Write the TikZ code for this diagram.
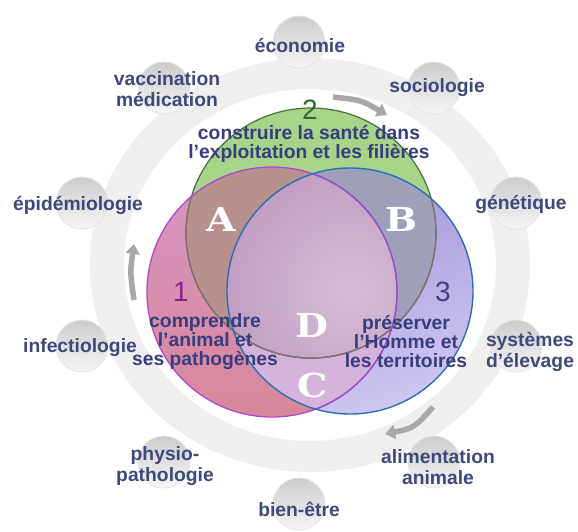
\documentclass[tikz,border=0pt]{standalone}
\usepackage{fontspec}
\setmainfont{Liberation Sans}
\newfontfamily\letterfont{DejaVu Serif}
\usetikzlibrary{arrows.meta}
\definecolor{txt}{HTML}{3D4A7C}
\definecolor{venntxt}{HTML}{373D7D}
\definecolor{ringc}{HTML}{EFEFEF}
\definecolor{arrc}{HTML}{A8A8A8}
\definecolor{greenfill}{HTML}{A8D48A}
\definecolor{oneTop}{HTML}{D696C4}
\definecolor{oneBot}{HTML}{D9869A}
\definecolor{threeTop}{HTML}{A090D8}
\definecolor{threeBot}{HTML}{CEC7F0}
\definecolor{regA}{HTML}{B8918E}
\definecolor{regB}{HTML}{9DA0B8}
\definecolor{regC}{HTML}{D5B3DA}
\definecolor{regDin}{HTML}{D6BDD6}
\definecolor{regDout}{HTML}{C29EC4}
\definecolor{greenline}{HTML}{46703A}
\definecolor{greengray}{HTML}{857174}
\definecolor{magline}{HTML}{B045D2}
\definecolor{blueline}{HTML}{2A6FB6}
\definecolor{numone}{HTML}{8E1C8E}
\definecolor{numtwo}{HTML}{2B6B2B}
\definecolor{numthree}{HTML}{4A3A8A}
\tikzset{
  outerlabel/.style={text=txt, font=\fontsize{19.3}{21}\selectfont\bfseries, align=center, inner sep=0pt},
  venntext/.style={text=venntxt, font=\fontsize{19.3}{19}\selectfont\bfseries, align=center, inner sep=0pt},
  bignum/.style={font=\fontsize{28}{28}\selectfont, inner sep=0pt},
  zone/.style={text=white, font=\fontsize{33}{33}\selectfont\letterfont\bfseries, inner sep=0pt, xscale=1.15},
  bubble/.style={circle, minimum size=52pt, inner sep=0pt, top color=gray!40, bottom color=gray!7, draw=gray!20, line width=0.8pt},
  ringarrow/.style={draw=arrc, line width=5.5pt, -{Triangle[length=10pt,width=14pt]}},
}
\begin{document}
\begin{tikzpicture}[x=1pt,y=-1pt]
\useasboundingbox (0,0) rectangle (578,531);
\fill[white] (0,0) rectangle (578,531);
% ring
\fill[ringc, even odd rule] (310,265) ellipse [x radius=220pt, y radius=207pt]
  (310,265) ellipse [x radius=186pt, y radius=176pt];
% bubbles
\node[bubble] (bEco) at (299,42) {};
\node[bubble] (bSoc) at (434,88) {};
\node[bubble] (bGen) at (516,203) {};
\node[bubble] (bSys) at (516,346) {};
\node[bubble] (bAli) at (434,462) {};
\node[bubble] (bBie) at (299,504) {};
\node[bubble] (bPhy) at (164,462) {};
\node[bubble] (bInf) at (82,346) {};
\node[bubble] (bEpi) at (82,203) {};
\node[bubble] (bVac) at (164,88) {};
% arrows on ring
\coordinate (t1) at (333,97);  \coordinate (t2) at (387,115);
\coordinate (l1) at (134,300); \coordinate (l2) at (134,244);
\coordinate (r1) at (433,407); \coordinate (r2) at (385,434);
\draw[ringarrow] (t1) .. controls (361,100) .. (t2);
\draw[ringarrow] (l1) .. controls (130,272) .. (l2);
\draw[ringarrow] (r1) .. controls (414,428) .. (r2);
% Venn
\def\CircOne{(272,292) circle (125pt)}
\def\CircTwo{(311,233) circle (125pt)}
\def\CircThree{(350,291) circle (123pt)}
\fill[greenfill] \CircTwo;
\shade[top color=oneTop, bottom color=oneBot] \CircOne;
\shade[top color=threeTop, bottom color=threeBot, shading angle=20] \CircThree;
\begin{scope}\clip \CircOne; \fill[regA] \CircTwo; \end{scope}
\begin{scope}\clip \CircThree; \fill[regB] \CircTwo; \end{scope}
\begin{scope}\clip \CircOne; \fill[regC] \CircThree; \end{scope}
\begin{scope}\clip \CircOne; \clip \CircTwo;
  \shade[inner color=regDin, outer color=regDout] \CircThree; \end{scope}
% outlines
\draw[greenline, line width=1.2pt] \CircTwo;
\begin{scope}\clip \CircOne; \draw[greengray, line width=1.2pt] \CircTwo; \end{scope}
\begin{scope}\clip \CircThree; \draw[greengray, line width=1.2pt] \CircTwo; \end{scope}
\draw[magline, line width=1.3pt] \CircOne;
\begin{scope}\clip \CircThree; \draw[magline!80!blueline, line width=1.3pt] \CircOne; \end{scope}
\draw[blueline, line width=1.4pt] \CircThree;
% zone letters
\node[zone] (zA) at (221,219) {A};
\node[zone] (zB) at (402,219) {B};
\node[zone] (zD) at (312,325) {D};
\node[zone] (zC) at (313,385) {C};
% numbers
\node[bignum, text=numone] (n1) at (181,292) {1};
\node[bignum, text=numtwo] (n2) at (310,110) {2};
\node[bignum, text=numthree] (n3) at (443,292) {3};
% venn texts
\node[venntext] (t2txt) at (309,144) {construire la santé dans\\l’exploitation et les filières};
\node[venntext] (t1txt) at (205,342) {comprendre\\l’animal et\\ses pathogènes};
\node[venntext] (t3txt) at (406,342) {préserver\\l'Homme et\\les territoires};
% outer labels
\node[outerlabel] (lEco) at (300,46) {économie};
\node[outerlabel] (lVac) at (167,89) {vaccination\\médication};
\node[outerlabel] (lSoc) at (437,88) {sociologie};
\node[outerlabel] (lEpi) at (78,205) {épidémiologie};
\node[outerlabel] (lGen) at (521,204) {génétique};
\node[outerlabel] (lInf) at (80,348) {infectiologie};
\node[outerlabel] (lSys) at (530,352) {systèmes\\d’élevage};
\node[outerlabel] (lPhy) at (165,466) {physio-\\pathologie};
\node[outerlabel] (lAli) at (438,467) {alimentation\\animale};
\node[outerlabel] (lBie) at (299,509) {bien-être};
\end{tikzpicture}
\end{document}
